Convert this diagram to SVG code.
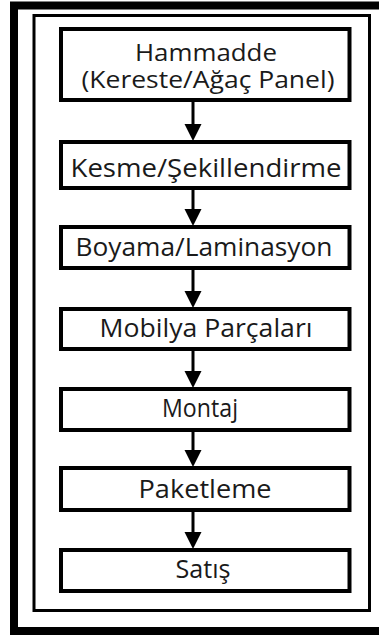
<svg xmlns="http://www.w3.org/2000/svg" width="379" height="635" viewBox="0 0 379 635">
<style>
.box{fill:#fff;stroke:#000;stroke-width:4}
.t{font-family:"Open Sans","Noto Sans",sans-serif;font-size:25px;fill:#1a1a1a;text-anchor:middle}
.t2{font-size:23px}
.ln{stroke:#000;stroke-width:3}
.hd{fill:#000}
</style>
<rect x="0" y="0" width="379" height="635" fill="#fff"/>
<rect x="14" y="5.5" width="380" height="625.5" fill="none" stroke="#000" stroke-width="8"/>
<rect x="34" y="15.5" width="335.5" height="595" fill="none" stroke="#000" stroke-width="3"/>
<g id="n1"><rect class="box" x="61" y="29" width="288.5" height="71"/>
<text class="t t2" x="206" y="61" textLength="142" lengthAdjust="spacingAndGlyphs">Hammadde</text>
<text class="t t2" x="208" y="88" textLength="253" lengthAdjust="spacingAndGlyphs">(Kereste/Ağaç Panel)</text></g>
<g id="n2"><rect class="box" x="61" y="142" width="288.5" height="46"/>
<text class="t" x="206" y="177" textLength="271" lengthAdjust="spacingAndGlyphs">Kesme/Şekillendirme</text></g>
<g id="n3"><rect class="box" x="61" y="227" width="288.5" height="41"/>
<text class="t" x="204" y="256" textLength="257" lengthAdjust="spacingAndGlyphs">Boyama/Laminasyon</text></g>
<g id="n4"><rect class="box" x="61" y="309" width="288.5" height="40"/>
<text class="t" x="206" y="337" textLength="213" lengthAdjust="spacingAndGlyphs">Mobilya Parçaları</text></g>
<g id="n5"><rect class="box" x="61" y="389" width="288.5" height="41"/>
<text class="t" x="200" y="417" textLength="76" lengthAdjust="spacingAndGlyphs">Montaj</text></g>
<g id="n6"><rect class="box" x="61" y="468" width="288.5" height="42"/>
<text class="t" x="205" y="498" textLength="133" lengthAdjust="spacingAndGlyphs">Paketleme</text></g>
<g id="n7"><rect class="box" x="61" y="550" width="288.5" height="41"/>
<text class="t" x="203" y="578" textLength="55" lengthAdjust="spacingAndGlyphs">Satış</text></g>
<g id="connectors">
<line class="ln" x1="193" y1="102" x2="193" y2="125"/><polygon class="hd" points="184.5,124 201.5,124 193,141"/>
<line class="ln" x1="193" y1="190" x2="193" y2="210"/><polygon class="hd" points="184.5,209 201.5,209 193,226"/>
<line class="ln" x1="193" y1="270" x2="193" y2="292"/><polygon class="hd" points="184.5,291 201.5,291 193,308"/>
<line class="ln" x1="193" y1="351" x2="193" y2="372"/><polygon class="hd" points="184.5,371 201.5,371 193,388"/>
<line class="ln" x1="193" y1="432" x2="193" y2="451"/><polygon class="hd" points="184.5,450 201.5,450 193,467"/>
<line class="ln" x1="193" y1="512" x2="193" y2="533"/><polygon class="hd" points="184.5,532 201.5,532 193,549"/>
</g>
</svg>
